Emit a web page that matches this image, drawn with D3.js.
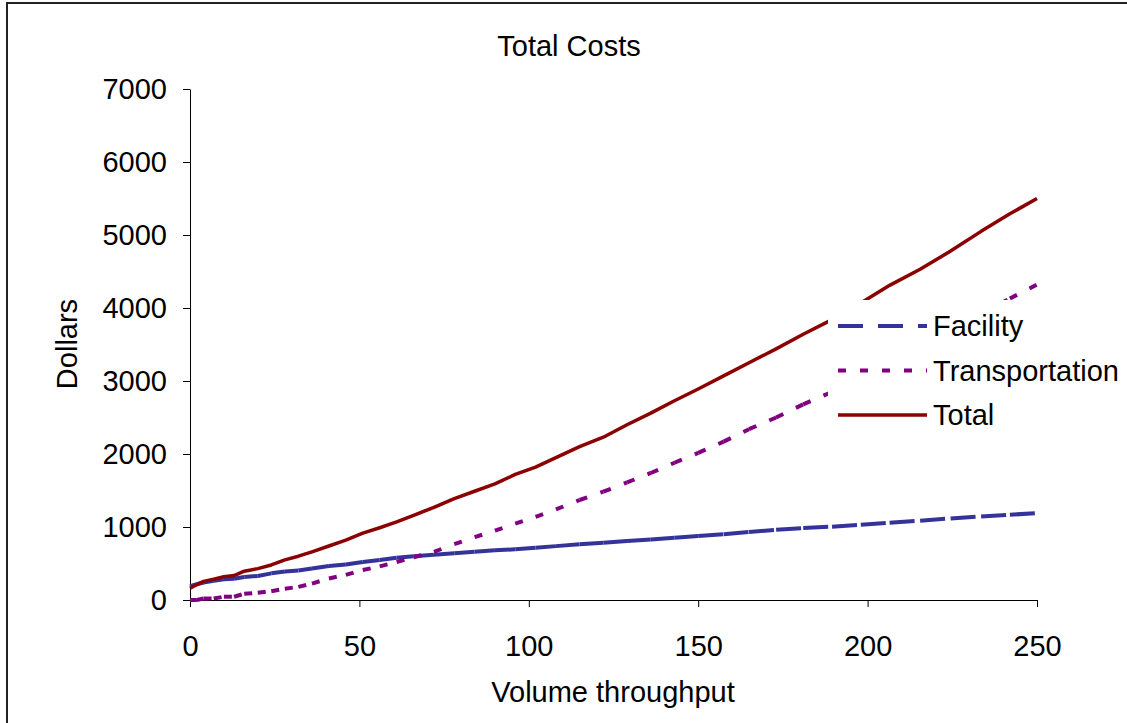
<!DOCTYPE html>
<html>
<head>
<meta charset="utf-8">
<script src="https://cdn.jsdelivr.net/npm/d3@7"></script>
<style>
    body { margin: 0; background: #fff; }
    text { font-family: "Liberation Sans", Arial, sans-serif; fill: #000; }
    .axis text { font-size: 29px; }
    .axis path, .axis line { stroke: #000; stroke-width: 1; }
</style>
</head>
<body>
<div id="chart"></div>
<script>
// volume throughput at each sampled point
var volume = [0, 2, 4, 7, 10, 13, 16, 20, 24, 28, 32, 36, 41, 46, 51, 56, 61, 66, 72, 78,
    84, 90, 96, 102, 108, 115, 122, 129, 136, 143, 150, 157.5, 165, 173, 181, 189.5, 198,
    206.5, 215.5, 224.5, 233.5, 242, 250];

var facility = [190, 215, 240, 262, 283, 290, 315, 330, 365, 390, 405, 432, 466, 485, 520,
    548, 578, 598, 620, 640, 660, 680, 694, 715, 738, 763, 785, 808, 830, 853, 876, 900,
    932, 962, 985, 1005, 1030, 1058, 1087, 1118, 1145, 1168, 1190];

var transportation = [0, 0, 20, 20, 45, 45, 85, 100, 120, 155, 180, 225, 295, 345, 410,
    460, 520, 585, 660, 765, 860, 950, 1045, 1140, 1240, 1370, 1484, 1610, 1740, 1880,
    2015, 2170, 2340, 2500, 2680, 2850, 3050, 3250, 3470, 3690, 3920, 4130, 4320];

var total = [160, 210, 255, 285, 320, 335, 395, 430, 480, 550, 600, 660, 740, 820, 915,
    990, 1070, 1160, 1270, 1390, 1490, 1590, 1720, 1820, 1950, 2100, 2230, 2400, 2560,
    2730, 2890, 3070, 3250, 3440, 3640, 3840, 4070, 4310, 4530, 4780, 5050, 5290, 5500];

var xTicks = [0, 50, 100, 150, 200, 250];
var yTicks = [0, 1000, 2000, 3000, 4000, 5000, 6000, 7000];

var series = [
    {name: 'Facility', values: facility, color: '#333399', dash: '25,15'},
    {name: 'Transportation', values: transportation, color: '#800080', dash: '8,14'},
    {name: 'Total', values: total, color: '#8b0000', dash: null}
];

var width = 1127;
var height = 723;

var xScale = d3.scaleLinear()
    .domain([0, 250])
    .range([190, 1037]);

var yScale = d3.scaleLinear()
    .domain([0, 7000])
    .range([600, 89]);

var svg = d3.select('#chart')
    .append('svg')
    .attr('width', width)
    .attr('height', height);

svg.append('rect')
    .attr('x', 7)
    .attr('y', 3)
    .attr('width', 1140)
    .attr('height', 740)
    .attr('fill', '#fff')
    .attr('stroke', '#222')
    .attr('stroke-width', 2);

svg.append('text')
    .attr('x', 569)
    .attr('y', 56)
    .style('font-size', '29px')
    .style('text-anchor', 'middle')
    .text('Total Costs');

var xAxis = d3.axisBottom(xScale)
    .tickValues(xTicks)
    .tickSize(7)
    .tickSizeOuter(0)
    .tickPadding(28);

svg.append('g')
    .attr('class', 'axis')
    .attr('transform', 'translate(0, 600)')
    .call(xAxis);

var yAxis = d3.axisLeft(yScale)
    .tickValues(yTicks)
    .tickFormat(d3.format('d'))
    .tickSize(7)
    .tickSizeOuter(0)
    .tickPadding(16);

svg.append('g')
    .attr('class', 'axis')
    .attr('transform', 'translate(190, 0)')
    .call(yAxis);

svg.selectAll('.axis text').attr('font-family', null).attr('font-size', null);

svg.append('text')
    .attr('x', 613)
    .attr('y', 702)
    .style('font-size', '29px')
    .style('text-anchor', 'middle')
    .text('Volume throughput');

svg.append('text')
    .attr('transform', 'rotate(-90)')
    .attr('x', -344)
    .attr('y', 77)
    .style('font-size', '29px')
    .style('text-anchor', 'middle')
    .text('Dollars');

// the dash pattern starts again on every segment, like the original chart
series.forEach(function (s) {
    var points = volume.map(function (v, i) {
        return [xScale(v), yScale(s.values[i])];
    });

    if (s.dash) {
        svg.append('g')
            .selectAll('line')
            .data(d3.pairs(points))
            .enter()
            .append('line')
            .attr('x1', function (d) { return d[0][0]; })
            .attr('y1', function (d) { return d[0][1]; })
            .attr('x2', function (d) { return d[1][0]; })
            .attr('y2', function (d) { return d[1][1]; })
            .attr('stroke', s.color)
            .attr('stroke-width', 4)
            .attr('stroke-dasharray', s.dash);
    } else {
        svg.append('path')
            .datum(points)
            .attr('d', d3.line())
            .attr('fill', 'none')
            .attr('stroke', s.color)
            .attr('stroke-width', 3.5)
            .attr('stroke-linejoin', 'round');
    }
});

var legend = svg.append('g')
    .attr('transform', 'translate(828, 300)');

legend.append('rect')
    .attr('width', 300)
    .attr('height', 140)
    .attr('fill', '#fff');

var rows = legend.selectAll('g.row')
    .data(series)
    .enter()
    .append('g')
    .attr('class', 'row')
    .attr('transform', function (d, i) {
        return 'translate(0, ' + (26 + i * 44.5) + ')';
    });

rows.append('line')
    .attr('x1', 10)
    .attr('x2', 99)
    .attr('stroke', function (d) { return d.color; })
    .attr('stroke-width', function (d) { return d.dash ? 4 : 3.5; })
    .attr('stroke-dasharray', function (d) { return d.dash; });

rows.append('text')
    .attr('x', 105)
    .attr('dy', '0.35em')
    .style('font-size', '29px')
    .text(function (d) { return d.name; });
</script>
</body>
</html>
